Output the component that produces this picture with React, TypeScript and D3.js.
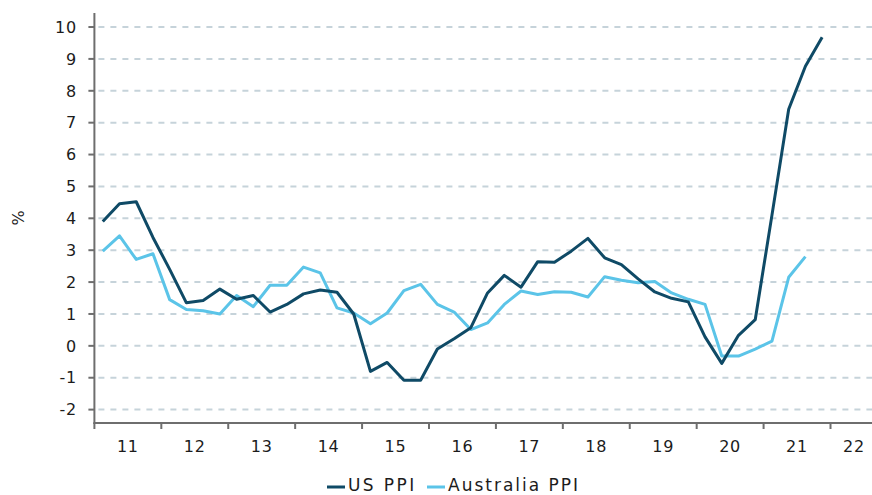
import React from "react";
import * as d3 from "d3";

const years = [11, 12, 13, 14, 15, 16, 17, 18, 19, 20, 21, 22];
const yTicks = [-2, -1, 0, 1, 2, 3, 4, 5, 6, 7, 8, 9, 10];

// quarterly values, Q1 2011 onward
const usPPI = [
  3.9, 4.46, 4.52, 3.4,
  2.4, 1.35, 1.42, 1.78,
  1.46, 1.58, 1.06, 1.3,
  1.63, 1.75, 1.68, 1.0,
  -0.8, -0.52, -1.08, -1.08,
  -0.1, 0.22, 0.57, 1.66,
  2.21, 1.84, 2.64, 2.62,
  2.97, 3.37, 2.76, 2.55,
  2.1, 1.69, 1.49, 1.38,
  0.28, -0.55, 0.33, 0.82,
  4.1, 7.42, 8.77, 9.68,
];
const ausPPI = [
  2.97, 3.45, 2.71, 2.89,
  1.45, 1.14, 1.1, 1.0,
  1.58, 1.23, 1.9, 1.9,
  2.47, 2.29, 1.19, 1.03,
  0.69, 1.03, 1.73, 1.93,
  1.3, 1.06, 0.51, 0.72,
  1.3, 1.72, 1.61, 1.7,
  1.68, 1.53, 2.17, 2.06,
  1.98, 2.02, 1.66, 1.46,
  1.3, -0.32, -0.32, -0.1,
  0.15, 2.15, 2.8,
];

const W = 872;
const H = 495;
const US_COLOR = "#0f4a66";
const AUS_COLOR = "#5bc4e8";
const FONT = "'DejaVu Sans', Verdana, sans-serif";

export default function App() {
  const x = d3.scaleLinear().domain([2011, 2022.62]).range([94.4, 872]);
  const y = d3.scaleLinear().domain([-2.42, 10.44]).range([423, 13]);
  const qx = (i: number) => x(2011 + (i + 0.5) / 4);
  const line = d3
    .line<number>()
    .x((_, i) => qx(i))
    .y((d) => y(d));

  const left = x(2011);
  const bottom = y(-2.42);

  return (
    <div style={{ position: "absolute", left: 0, top: 0, width: W, height: H, background: "#fff" }}>
      <svg width={W} height={H} style={{ display: "block" }} fontFamily={FONT}>
        {/* gridlines */}
        {yTicks.map((t) => (
          <line
            key={"g" + t}
            x1={left + 4}
            x2={W}
            y1={y(t)}
            y2={y(t)}
            stroke="#c6d3da"
            strokeWidth={2}
            strokeDasharray="6 6"
          />
        ))}
        {/* y ticks & labels */}
        {yTicks.map((t) => (
          <g key={"y" + t}>
            <line x1={left - 6} x2={left} y1={y(t)} y2={y(t)} stroke="#6e6e6e" strokeWidth={2} />
            <text
              x={77}
              y={y(t)}
              dy="0.36em"
              textAnchor="end"
              fontSize={16}
              fill="#1c1c1c"
              letterSpacing={0.8}
            >
              {t}
            </text>
          </g>
        ))}
        {/* x ticks & labels */}
        {years.map((yr) => {
          const start = 2000 + yr;
          const cx = Math.min(x(start + 0.5), W - 18);
          return (
            <g key={"x" + yr}>
              <line x1={x(start)} x2={x(start)} y1={bottom} y2={bottom + 6} stroke="#6e6e6e" strokeWidth={2} />
              <text x={cx} y={452} textAnchor="middle" fontSize={16} fill="#1c1c1c" letterSpacing={0.8}>
                {yr}
              </text>
            </g>
          );
        })}
        {/* axes */}
        <line x1={left} x2={left} y1={13} y2={bottom + 1} stroke="#6e6e6e" strokeWidth={2} />
        <line x1={left - 1} x2={W} y1={bottom} y2={bottom} stroke="#6e6e6e" strokeWidth={2} />
        {/* y label */}
        <text
          transform={`translate(24,218) rotate(-90)`}
          textAnchor="middle"
          fontSize={16}
          fill="#1c1c1c"
        >
          %
        </text>
        {/* series */}
        <path d={line(ausPPI) || ""} fill="none" stroke={AUS_COLOR} strokeWidth={3} strokeLinejoin="round" />
        <path d={line(usPPI) || ""} fill="none" stroke={US_COLOR} strokeWidth={3} strokeLinejoin="round" />
        {/* legend */}
        <line x1={327} x2={345} y1={487} y2={487} stroke={US_COLOR} strokeWidth={3} />
        <text x={348} y={491} fontSize={17} fill="#1c1c1c" letterSpacing={2.4}>
          US PPI
        </text>
        <line x1={427} x2={445} y1={487} y2={487} stroke={AUS_COLOR} strokeWidth={3} />
        <text x={448} y={491} fontSize={17} fill="#1c1c1c" letterSpacing={2}>
          Australia PPI
        </text>
      </svg>
    </div>
  );
}
